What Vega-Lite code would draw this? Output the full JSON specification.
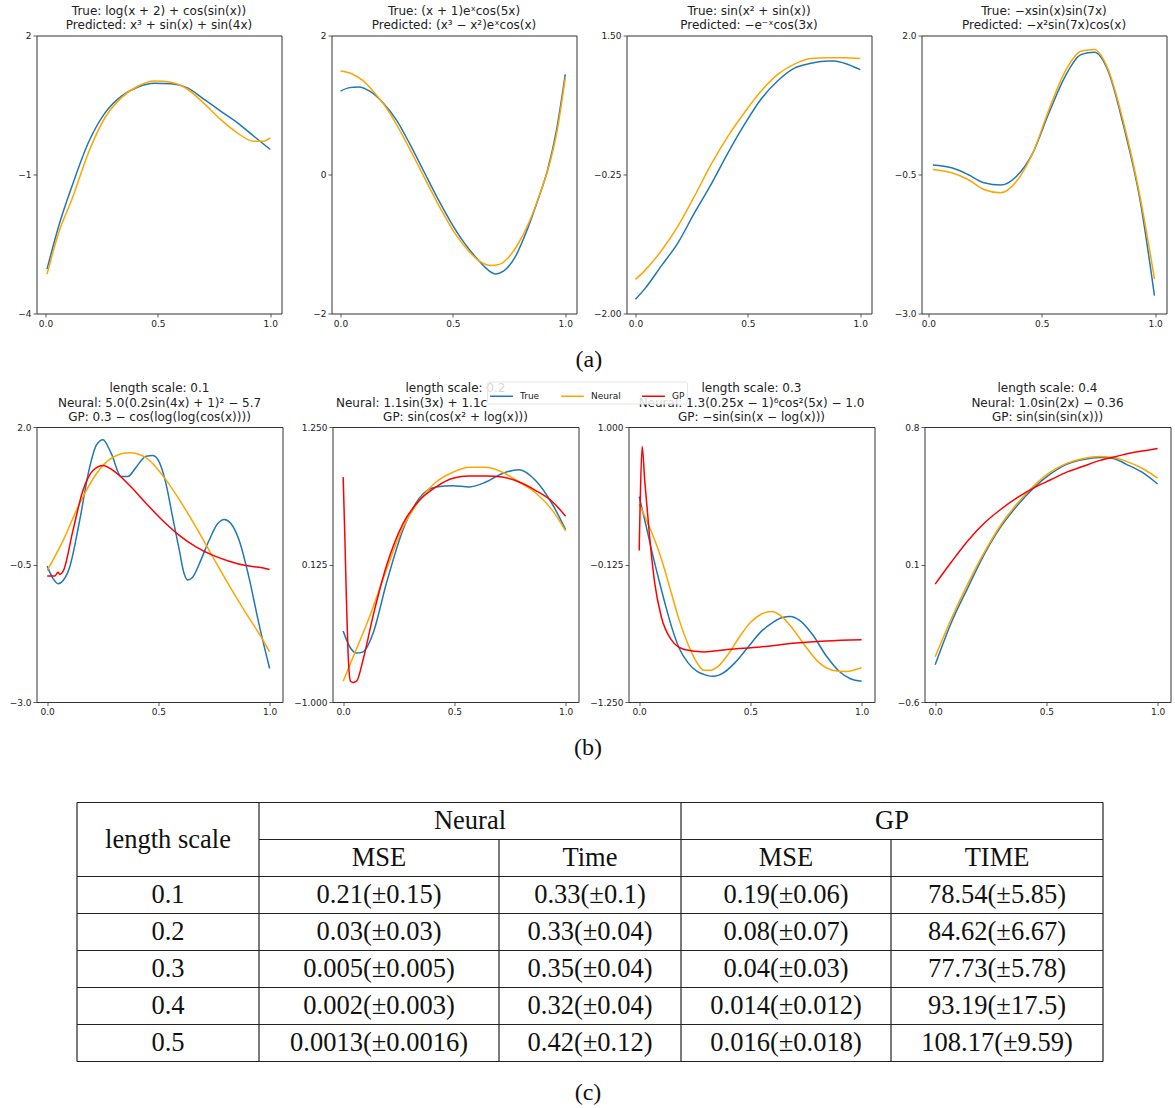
{
  "$schema": "https://vega.github.io/schema/vega-lite/v6.json",
  "background": "white",
  "padding": {"left": 8.5, "top": 4.5, "right": 0, "bottom": 0},
  "config": {
    "view": {"stroke": "#333333", "strokeWidth": 1},
    "font": "DejaVu Sans",
    "axis": {"domain": false, "grid": false, "tickColor": "#333333", "tickSize": 3.5, "tickWidth": 0.8, "labelFont": "DejaVu Sans", "labelFontSize": 9, "labelColor": "#222222", "labelPadding": 2, "labelFlush": false},
    "title": {"font": "DejaVu Sans", "fontSize": 12, "fontWeight": "normal", "color": "#222222", "offset": -1, "lineHeight": 14.4, "frame": "group", "anchor": "middle"},
    "line": {"strokeWidth": 1.5, "interpolate": "monotone"},
    "legend": {"orient": "none", "legendX": 450.5, "legendY": 346, "direction": "horizontal", "columns": 3, "title": null, "symbolType": "stroke", "symbolSize": 520, "symbolStrokeWidth": 1.5, "labelFont": "DejaVu Sans", "labelFontSize": 9, "labelColor": "#222222", "labelOffset": 6, "columnPadding": 18, "padding": 2, "fillColor": "rgba(255,255,255,0.82)", "strokeColor": "#e6e6e6", "cornerRadius": 2, "zindex": 1}
  },
  "datasets": {
    "a1": [
      {"s":"True","x":0.007,"y":-3.04},{"s":"True","x":0.059,"y":-2.11},{"s":"True","x":0.118,"y":-1.25},{"s":"True","x":0.191,"y":-0.31},{"s":"True","x":0.265,"y":0.33},{"s":"True","x":0.338,"y":0.69},{"s":"True","x":0.412,"y":0.89},{"s":"True","x":0.485,"y":0.97},{"s":"True","x":0.559,"y":0.96},{"s":"True","x":0.632,"y":0.87},{"s":"True","x":0.706,"y":0.62},{"s":"True","x":0.779,"y":0.37},{"s":"True","x":0.853,"y":0.12},{"s":"True","x":0.926,"y":-0.17},{"s":"True","x":1.0,"y":-0.46},
      {"s":"Neural","x":0.007,"y":-3.15},{"s":"Neural","x":0.059,"y":-2.25},{"s":"Neural","x":0.118,"y":-1.53},{"s":"Neural","x":0.191,"y":-0.53},{"s":"Neural","x":0.265,"y":0.23},{"s":"Neural","x":0.338,"y":0.66},{"s":"Neural","x":0.412,"y":0.91},{"s":"Neural","x":0.485,"y":1.02},{"s":"Neural","x":0.559,"y":0.99},{"s":"Neural","x":0.632,"y":0.84},{"s":"Neural","x":0.706,"y":0.53},{"s":"Neural","x":0.779,"y":0.19},{"s":"Neural","x":0.853,"y":-0.10},{"s":"Neural","x":0.926,"y":-0.28},{"s":"Neural","x":0.97,"y":-0.28},{"s":"Neural","x":1.0,"y":-0.21}
    ],
    "a2": [
      {"s":"True","x":0.0,"y":1.20},{"s":"True","x":0.04,"y":1.25},{"s":"True","x":0.08,"y":1.26},{"s":"True","x":0.13,"y":1.20},{"s":"True","x":0.19,"y":1.03},{"s":"True","x":0.25,"y":0.78},{"s":"True","x":0.31,"y":0.43},{"s":"True","x":0.37,"y":0.05},{"s":"True","x":0.43,"y":-0.33},{"s":"True","x":0.49,"y":-0.68},{"s":"True","x":0.55,"y":-0.98},{"s":"True","x":0.61,"y":-1.22},{"s":"True","x":0.655,"y":-1.37},{"s":"True","x":0.69,"y":-1.43},{"s":"True","x":0.725,"y":-1.39},{"s":"True","x":0.78,"y":-1.17},{"s":"True","x":0.83,"y":-0.80},{"s":"True","x":0.88,"y":-0.35},{"s":"True","x":0.92,"y":0.05},{"s":"True","x":0.96,"y":0.62},{"s":"True","x":1.0,"y":1.44},
      {"s":"Neural","x":0.0,"y":1.49},{"s":"Neural","x":0.05,"y":1.45},{"s":"Neural","x":0.10,"y":1.35},{"s":"Neural","x":0.15,"y":1.18},{"s":"Neural","x":0.21,"y":0.93},{"s":"Neural","x":0.27,"y":0.60},{"s":"Neural","x":0.33,"y":0.23},{"s":"Neural","x":0.39,"y":-0.15},{"s":"Neural","x":0.45,"y":-0.52},{"s":"Neural","x":0.51,"y":-0.85},{"s":"Neural","x":0.57,"y":-1.10},{"s":"Neural","x":0.62,"y":-1.25},{"s":"Neural","x":0.67,"y":-1.31},{"s":"Neural","x":0.70,"y":-1.30},{"s":"Neural","x":0.74,"y":-1.22},{"s":"Neural","x":0.79,"y":-1.00},{"s":"Neural","x":0.84,"y":-0.68},{"s":"Neural","x":0.89,"y":-0.25},{"s":"Neural","x":0.93,"y":0.15},{"s":"Neural","x":0.965,"y":0.65},{"s":"Neural","x":1.0,"y":1.39}
    ],
    "a3": [
      {"s":"True","x":0.0,"y":-1.82},{"s":"True","x":0.041,"y":-1.69},{"s":"True","x":0.115,"y":-1.40},{"s":"True","x":0.189,"y":-1.11},{"s":"True","x":0.263,"y":-0.73},{"s":"True","x":0.337,"y":-0.37},{"s":"True","x":0.411,"y":0.02},{"s":"True","x":0.485,"y":0.38},{"s":"True","x":0.559,"y":0.70},{"s":"True","x":0.633,"y":0.93},{"s":"True","x":0.707,"y":1.09},{"s":"True","x":0.781,"y":1.15},{"s":"True","x":0.855,"y":1.18},{"s":"True","x":0.885,"y":1.18},{"s":"True","x":0.93,"y":1.15},{"s":"True","x":1.0,"y":1.07},
      {"s":"Neural","x":0.0,"y":-1.57},{"s":"Neural","x":0.041,"y":-1.46},{"s":"Neural","x":0.115,"y":-1.21},{"s":"Neural","x":0.189,"y":-0.90},{"s":"Neural","x":0.263,"y":-0.52},{"s":"Neural","x":0.337,"y":-0.12},{"s":"Neural","x":0.411,"y":0.23},{"s":"Neural","x":0.485,"y":0.53},{"s":"Neural","x":0.559,"y":0.80},{"s":"Neural","x":0.633,"y":1.01},{"s":"Neural","x":0.707,"y":1.14},{"s":"Neural","x":0.781,"y":1.21},{"s":"Neural","x":0.855,"y":1.22},{"s":"Neural","x":0.93,"y":1.22},{"s":"Neural","x":1.0,"y":1.21}
    ],
    "a4": [
      {"s":"True","x":0.02,"y":-0.33},{"s":"True","x":0.103,"y":-0.38},{"s":"True","x":0.175,"y":-0.50},{"s":"True","x":0.246,"y":-0.65},{"s":"True","x":0.318,"y":-0.69},{"s":"True","x":0.389,"y":-0.53},{"s":"True","x":0.461,"y":-0.11},{"s":"True","x":0.532,"y":0.61},{"s":"True","x":0.604,"y":1.27},{"s":"True","x":0.675,"y":1.66},{"s":"True","x":0.732,"y":1.70},{"s":"True","x":0.790,"y":1.39},{"s":"True","x":0.861,"y":0.37},{"s":"True","x":0.933,"y":-0.95},{"s":"True","x":0.997,"y":-2.68},
      {"s":"Neural","x":0.02,"y":-0.41},{"s":"Neural","x":0.103,"y":-0.47},{"s":"Neural","x":0.175,"y":-0.59},{"s":"Neural","x":0.246,"y":-0.77},{"s":"Neural","x":0.318,"y":-0.83},{"s":"Neural","x":0.389,"y":-0.62},{"s":"Neural","x":0.461,"y":-0.11},{"s":"Neural","x":0.532,"y":0.67},{"s":"Neural","x":0.604,"y":1.36},{"s":"Neural","x":0.675,"y":1.72},{"s":"Neural","x":0.732,"y":1.75},{"s":"Neural","x":0.790,"y":1.42},{"s":"Neural","x":0.861,"y":0.43},{"s":"Neural","x":0.933,"y":-0.89},{"s":"Neural","x":0.997,"y":-2.38}
    ],
    "b1": [
      {"s":"True","x":0.0,"y":-0.53},{"s":"True","x":0.027,"y":-0.76},{"s":"True","x":0.049,"y":-0.85},{"s":"True","x":0.072,"y":-0.79},{"s":"True","x":0.101,"y":-0.55},{"s":"True","x":0.146,"y":0.30},{"s":"True","x":0.191,"y":1.27},{"s":"True","x":0.221,"y":1.67},{"s":"True","x":0.251,"y":1.77},{"s":"True","x":0.288,"y":1.52},{"s":"True","x":0.333,"y":1.10},{"s":"True","x":0.363,"y":1.10},{"s":"True","x":0.40,"y":1.27},{"s":"True","x":0.445,"y":1.47},{"s":"True","x":0.475,"y":1.48},{"s":"True","x":0.504,"y":1.36},{"s":"True","x":0.534,"y":0.97},{"s":"True","x":0.564,"y":0.36},{"s":"True","x":0.594,"y":-0.24},{"s":"True","x":0.616,"y":-0.67},{"s":"True","x":0.631,"y":-0.78},{"s":"True","x":0.654,"y":-0.73},{"s":"True","x":0.691,"y":-0.42},{"s":"True","x":0.728,"y":-0.06},{"s":"True","x":0.766,"y":0.24},{"s":"True","x":0.796,"y":0.32},{"s":"True","x":0.825,"y":0.25},{"s":"True","x":0.863,"y":-0.06},{"s":"True","x":0.907,"y":-0.73},{"s":"True","x":0.952,"y":-1.58},{"s":"True","x":1.0,"y":-2.39},
      {"s":"Neural","x":0.0,"y":-0.61},{"s":"Neural","x":0.072,"y":-0.06},{"s":"Neural","x":0.146,"y":0.61},{"s":"Neural","x":0.221,"y":1.15},{"s":"Neural","x":0.296,"y":1.45},{"s":"Neural","x":0.370,"y":1.53},{"s":"Neural","x":0.445,"y":1.44},{"s":"Neural","x":0.519,"y":1.12},{"s":"Neural","x":0.594,"y":0.68},{"s":"Neural","x":0.669,"y":0.18},{"s":"Neural","x":0.743,"y":-0.35},{"s":"Neural","x":0.818,"y":-0.88},{"s":"Neural","x":0.893,"y":-1.38},{"s":"Neural","x":0.967,"y":-1.85},{"s":"Neural","x":1.0,"y":-2.09},
      {"s":"GP","x":0.0,"y":-0.71},{"s":"GP","x":0.034,"y":-0.71},{"s":"GP","x":0.049,"y":-0.64},{"s":"GP","x":0.057,"y":-0.68},{"s":"GP","x":0.072,"y":-0.62},{"s":"GP","x":0.116,"y":0.12},{"s":"GP","x":0.161,"y":0.85},{"s":"GP","x":0.206,"y":1.21},{"s":"GP","x":0.251,"y":1.30},{"s":"GP","x":0.296,"y":1.21},{"s":"GP","x":0.370,"y":0.94},{"s":"GP","x":0.445,"y":0.61},{"s":"GP","x":0.519,"y":0.30},{"s":"GP","x":0.594,"y":0.03},{"s":"GP","x":0.669,"y":-0.18},{"s":"GP","x":0.743,"y":-0.33},{"s":"GP","x":0.818,"y":-0.44},{"s":"GP","x":0.893,"y":-0.52},{"s":"GP","x":0.967,"y":-0.56},{"s":"GP","x":1.0,"y":-0.59}
    ],
    "b2": [
      {"s":"True","x":0.0,"y":-0.42},{"s":"True","x":0.03,"y":-0.55},{"s":"True","x":0.06,"y":-0.60},{"s":"True","x":0.09,"y":-0.59},{"s":"True","x":0.134,"y":-0.44},{"s":"True","x":0.194,"y":-0.03},{"s":"True","x":0.269,"y":0.41},{"s":"True","x":0.343,"y":0.67},{"s":"True","x":0.418,"y":0.76},{"s":"True","x":0.493,"y":0.77},{"s":"True","x":0.567,"y":0.76},{"s":"True","x":0.642,"y":0.80},{"s":"True","x":0.716,"y":0.87},{"s":"True","x":0.791,"y":0.90},{"s":"True","x":0.866,"y":0.81},{"s":"True","x":0.940,"y":0.62},{"s":"True","x":1.0,"y":0.41},
      {"s":"Neural","x":0.0,"y":-0.83},{"s":"Neural","x":0.045,"y":-0.63},{"s":"Neural","x":0.119,"y":-0.30},{"s":"Neural","x":0.194,"y":0.08},{"s":"Neural","x":0.269,"y":0.43},{"s":"Neural","x":0.343,"y":0.65},{"s":"Neural","x":0.418,"y":0.80},{"s":"Neural","x":0.493,"y":0.88},{"s":"Neural","x":0.567,"y":0.92},{"s":"Neural","x":0.642,"y":0.92},{"s":"Neural","x":0.716,"y":0.88},{"s":"Neural","x":0.791,"y":0.80},{"s":"Neural","x":0.866,"y":0.71},{"s":"Neural","x":0.940,"y":0.57},{"s":"Neural","x":1.0,"y":0.40},
      {"s":"GP","x":0.0,"y":0.84},{"s":"GP","x":0.0075,"y":0.35},{"s":"GP","x":0.015,"y":-0.19},{"s":"GP","x":0.022,"y":-0.60},{"s":"GP","x":0.033,"y":-0.83},{"s":"GP","x":0.045,"y":-0.84},{"s":"GP","x":0.06,"y":-0.83},{"s":"GP","x":0.09,"y":-0.65},{"s":"GP","x":0.134,"y":-0.30},{"s":"GP","x":0.194,"y":0.11},{"s":"GP","x":0.269,"y":0.46},{"s":"GP","x":0.343,"y":0.65},{"s":"GP","x":0.418,"y":0.76},{"s":"GP","x":0.493,"y":0.83},{"s":"GP","x":0.567,"y":0.85},{"s":"GP","x":0.642,"y":0.85},{"s":"GP","x":0.716,"y":0.84},{"s":"GP","x":0.791,"y":0.80},{"s":"GP","x":0.866,"y":0.73},{"s":"GP","x":0.940,"y":0.64},{"s":"GP","x":1.0,"y":0.52}
    ],
    "b3": [
      {"s":"True","x":0.0,"y":0.43},{"s":"True","x":0.03,"y":0.20},{"s":"True","x":0.06,"y":-0.04},{"s":"True","x":0.09,"y":-0.26},{"s":"True","x":0.12,"y":-0.47},{"s":"True","x":0.15,"y":-0.66},{"s":"True","x":0.18,"y":-0.81},{"s":"True","x":0.22,"y":-0.93},{"s":"True","x":0.26,"y":-1.00},{"s":"True","x":0.30,"y":-1.03},{"s":"True","x":0.336,"y":-1.04},{"s":"True","x":0.38,"y":-1.01},{"s":"True","x":0.43,"y":-0.93},{"s":"True","x":0.49,"y":-0.80},{"s":"True","x":0.55,"y":-0.67},{"s":"True","x":0.60,"y":-0.60},{"s":"True","x":0.64,"y":-0.56},{"s":"True","x":0.68,"y":-0.55},{"s":"True","x":0.72,"y":-0.58},{"s":"True","x":0.78,"y":-0.70},{"s":"True","x":0.84,"y":-0.87},{"s":"True","x":0.90,"y":-1.00},{"s":"True","x":0.95,"y":-1.06},{"s":"True","x":1.0,"y":-1.08},
      {"s":"Neural","x":0.0,"y":0.37},{"s":"Neural","x":0.025,"y":0.27},{"s":"Neural","x":0.06,"y":0.12},{"s":"Neural","x":0.10,"y":-0.08},{"s":"Neural","x":0.14,"y":-0.33},{"s":"Neural","x":0.18,"y":-0.58},{"s":"Neural","x":0.22,"y":-0.78},{"s":"Neural","x":0.26,"y":-0.93},{"s":"Neural","x":0.29,"y":-0.99},{"s":"Neural","x":0.32,"y":-0.99},{"s":"Neural","x":0.36,"y":-0.95},{"s":"Neural","x":0.40,"y":-0.86},{"s":"Neural","x":0.45,"y":-0.72},{"s":"Neural","x":0.50,"y":-0.60},{"s":"Neural","x":0.55,"y":-0.53},{"s":"Neural","x":0.596,"y":-0.51},{"s":"Neural","x":0.64,"y":-0.55},{"s":"Neural","x":0.69,"y":-0.65},{"s":"Neural","x":0.75,"y":-0.80},{"s":"Neural","x":0.81,"y":-0.93},{"s":"Neural","x":0.87,"y":-0.99},{"s":"Neural","x":0.93,"y":-1.00},{"s":"Neural","x":1.0,"y":-0.97},
      {"s":"GP","x":0.0,"y":-0.01},{"s":"GP","x":0.0044,"y":0.37},{"s":"GP","x":0.0133,"y":0.84},{"s":"GP","x":0.025,"y":0.56},{"s":"GP","x":0.047,"y":0.10},{"s":"GP","x":0.07,"y":-0.28},{"s":"GP","x":0.099,"y":-0.55},{"s":"GP","x":0.144,"y":-0.74},{"s":"GP","x":0.203,"y":-0.82},{"s":"GP","x":0.292,"y":-0.84},{"s":"GP","x":0.396,"y":-0.82},{"s":"GP","x":0.544,"y":-0.80},{"s":"GP","x":0.692,"y":-0.77},{"s":"GP","x":0.840,"y":-0.75},{"s":"GP","x":1.0,"y":-0.74}
    ],
    "b4": [
      {"s":"True","x":0.0,"y":-0.41},{"s":"True","x":0.071,"y":-0.20},{"s":"True","x":0.146,"y":-0.02},{"s":"True","x":0.22,"y":0.15},{"s":"True","x":0.294,"y":0.29},{"s":"True","x":0.369,"y":0.40},{"s":"True","x":0.443,"y":0.49},{"s":"True","x":0.517,"y":0.56},{"s":"True","x":0.591,"y":0.61},{"s":"True","x":0.666,"y":0.635},{"s":"True","x":0.74,"y":0.645},{"s":"True","x":0.80,"y":0.64},{"s":"True","x":0.86,"y":0.61},{"s":"True","x":0.93,"y":0.57},{"s":"True","x":1.0,"y":0.51},
      {"s":"Neural","x":0.0,"y":-0.37},{"s":"Neural","x":0.071,"y":-0.18},{"s":"Neural","x":0.146,"y":0.0},{"s":"Neural","x":0.22,"y":0.16},{"s":"Neural","x":0.294,"y":0.30},{"s":"Neural","x":0.369,"y":0.41},{"s":"Neural","x":0.443,"y":0.50},{"s":"Neural","x":0.517,"y":0.57},{"s":"Neural","x":0.591,"y":0.615},{"s":"Neural","x":0.666,"y":0.64},{"s":"Neural","x":0.74,"y":0.65},{"s":"Neural","x":0.80,"y":0.645},{"s":"Neural","x":0.86,"y":0.625},{"s":"Neural","x":0.93,"y":0.59},{"s":"Neural","x":1.0,"y":0.54},
      {"s":"GP","x":0.0,"y":0.0},{"s":"GP","x":0.071,"y":0.11},{"s":"GP","x":0.146,"y":0.22},{"s":"GP","x":0.22,"y":0.31},{"s":"GP","x":0.294,"y":0.38},{"s":"GP","x":0.369,"y":0.44},{"s":"GP","x":0.443,"y":0.49},{"s":"GP","x":0.517,"y":0.53},{"s":"GP","x":0.591,"y":0.57},{"s":"GP","x":0.666,"y":0.60},{"s":"GP","x":0.74,"y":0.63},{"s":"GP","x":0.814,"y":0.65},{"s":"GP","x":0.889,"y":0.67},{"s":"GP","x":0.948,"y":0.68},{"s":"GP","x":1.0,"y":0.69}
    ],
    "rules": [
      {"x":0,"x2":1026,"y":0,"y2":0},{"x":182,"x2":1026,"y":1,"y2":1},{"x":0,"x2":1026,"y":2,"y2":2},{"x":0,"x2":1026,"y":3,"y2":3},{"x":0,"x2":1026,"y":4,"y2":4},{"x":0,"x2":1026,"y":5,"y2":5},{"x":0,"x2":1026,"y":6,"y2":6},{"x":0,"x2":1026,"y":7,"y2":7},
      {"x":0,"x2":0,"y":0,"y2":7},{"x":182,"x2":182,"y":0,"y2":7},{"x":604,"x2":604,"y":0,"y2":7},{"x":1026,"x2":1026,"y":0,"y2":7},{"x":422,"x2":422,"y":1,"y2":7},{"x":814,"x2":814,"y":1,"y2":7}
    ],
    "cells": [
      {"label":"length scale","cx":91,"cy":1.0},{"label":"Neural","cx":393,"cy":0.5},{"label":"GP","cx":815,"cy":0.5},
      {"label":"MSE","cx":302,"cy":1.5},{"label":"Time","cx":513,"cy":1.5},{"label":"MSE","cx":709,"cy":1.5},{"label":"TIME","cx":920,"cy":1.5},
      {"label":"0.1","cx":91,"cy":2.5},{"label":"0.21(±0.15)","cx":302,"cy":2.5},{"label":"0.33(±0.1)","cx":513,"cy":2.5},{"label":"0.19(±0.06)","cx":709,"cy":2.5},{"label":"78.54(±5.85)","cx":920,"cy":2.5},
      {"label":"0.2","cx":91,"cy":3.5},{"label":"0.03(±0.03)","cx":302,"cy":3.5},{"label":"0.33(±0.04)","cx":513,"cy":3.5},{"label":"0.08(±0.07)","cx":709,"cy":3.5},{"label":"84.62(±6.67)","cx":920,"cy":3.5},
      {"label":"0.3","cx":91,"cy":4.5},{"label":"0.005(±0.005)","cx":302,"cy":4.5},{"label":"0.35(±0.04)","cx":513,"cy":4.5},{"label":"0.04(±0.03)","cx":709,"cy":4.5},{"label":"77.73(±5.78)","cx":920,"cy":4.5},
      {"label":"0.4","cx":91,"cy":5.5},{"label":"0.002(±0.003)","cx":302,"cy":5.5},{"label":"0.32(±0.04)","cx":513,"cy":5.5},{"label":"0.014(±0.012)","cx":709,"cy":5.5},{"label":"93.19(±17.5)","cx":920,"cy":5.5},
      {"label":"0.5","cx":91,"cy":6.5},{"label":"0.0013(±0.0016)","cx":302,"cy":6.5},{"label":"0.42(±0.12)","cx":513,"cy":6.5},{"label":"0.016(±0.018)","cx":709,"cy":6.5},{"label":"108.17(±9.59)","cx":920,"cy":6.5}
    ],
    "captions": [
      {"label":"(b)","cx":511,"cy":-1.46},{"label":"(c)","cx":511,"cy":7.84}
    ]
  },
  "spacing": 18.5,
  "vconcat": [
    {
      "hconcat": [
        {"width": 245, "height": 278, "title": {"text": ["True: log(x + 2) + cos(sin(x))", "Predicted: x³ + sin(x) + sin(4x)"]}, "data": {"name": "a1"}, "mark": {"type": "line"},
         "encoding": {"x": {"field": "x", "type": "quantitative", "scale": {"domain": [-0.04, 1.05], "nice": false, "zero": false}, "axis": {"values": [0, 0.5, 1], "format": ".1f", "title": null}},
                      "y": {"field": "y", "type": "quantitative", "scale": {"domain": [-4, 2], "nice": false, "zero": false}, "axis": {"values": [-4, -1, 2], "format": ".0f", "title": null}},
                      "color": {"field": "s", "type": "nominal", "scale": {"domain": ["True", "Neural", "GP"], "range": ["#1f77b4", "#ffa500", "#ff0000"]}}}},
        {"width": 245, "height": 278, "title": {"text": ["True: (x + 1)eˣcos(5x)", "Predicted: (x³ − x²)eˣcos(x)"]}, "data": {"name": "a2"}, "mark": {"type": "line"},
         "encoding": {"x": {"field": "x", "type": "quantitative", "scale": {"domain": [-0.04, 1.05], "nice": false, "zero": false}, "axis": {"values": [0, 0.5, 1], "format": ".1f", "title": null}},
                      "y": {"field": "y", "type": "quantitative", "scale": {"domain": [-2, 2], "nice": false, "zero": false}, "axis": {"values": [-2, 0, 2], "format": ".0f", "title": null}},
                      "color": {"field": "s", "type": "nominal", "scale": {"domain": ["True", "Neural", "GP"], "range": ["#1f77b4", "#ffa500", "#ff0000"]}}}},
        {"width": 245, "height": 278, "title": {"text": ["True: sin(x² + sin(x))", "Predicted: −e⁻ˣcos(3x)"]}, "data": {"name": "a3"}, "mark": {"type": "line"},
         "encoding": {"x": {"field": "x", "type": "quantitative", "scale": {"domain": [-0.04, 1.05], "nice": false, "zero": false}, "axis": {"values": [0, 0.5, 1], "format": ".1f", "title": null}},
                      "y": {"field": "y", "type": "quantitative", "scale": {"domain": [-2, 1.5], "nice": false, "zero": false}, "axis": {"values": [-2, -0.25, 1.5], "format": ".2f", "title": null}},
                      "color": {"field": "s", "type": "nominal", "scale": {"domain": ["True", "Neural", "GP"], "range": ["#1f77b4", "#ffa500", "#ff0000"]}}}},
        {"width": 245, "height": 278, "title": {"text": ["True: −xsin(x)sin(7x)", "Predicted: −x²sin(7x)cos(x)"]}, "data": {"name": "a4"}, "mark": {"type": "line"},
         "encoding": {"x": {"field": "x", "type": "quantitative", "scale": {"domain": [-0.03, 1.05], "nice": false, "zero": false}, "axis": {"values": [0, 0.5, 1], "format": ".1f", "title": null}},
                      "y": {"field": "y", "type": "quantitative", "scale": {"domain": [-3, 2], "nice": false, "zero": false}, "axis": {"values": [-3, -0.5, 2], "format": ".1f", "title": null}},
                      "color": {"field": "s", "type": "nominal", "scale": {"domain": ["True", "Neural", "GP"], "range": ["#1f77b4", "#ffa500", "#ff0000"]}}}}
      ],
      "spacing": 50,
      "bounds": "flush"
    },
    {
      "title": {"text": "(a)", "font": "Liberation Serif", "fontSize": 24, "color": "#111111", "offset": 10, "anchor": "middle", "frame": "bounds", "dx": -1},
      "hconcat": [
        {"width": 246, "height": 275, "title": {"text": ["length scale: 0.1", "Neural: 5.0(0.2sin(4x) + 1)² − 5.7", "GP: 0.3 − cos(log(log(cos(x))))"]}, "data": {"name": "b1"}, "mark": {"type": "line"},
         "encoding": {"x": {"field": "x", "type": "quantitative", "scale": {"domain": [-0.048, 1.058], "nice": false, "zero": false}, "axis": {"values": [0, 0.5, 1], "format": ".1f", "title": null}},
                      "y": {"field": "y", "type": "quantitative", "scale": {"domain": [-3, 2], "nice": false, "zero": false}, "axis": {"values": [-3, -0.5, 2], "format": ".1f", "title": null}},
                      "color": {"field": "s", "type": "nominal", "scale": {"domain": ["True", "Neural", "GP"], "range": ["#1f77b4", "#ffa500", "#ff0000"]}}}},
        {"width": 246, "height": 275, "title": {"text": ["length scale: 0.2", "Neural: 1.1sin(3x) + 1.1c\u2800\u2800\u2800\u2800\u2800\u2800\u2800\u2800\u2800\u2800", "GP: sin(cos(x² + log(x)))"]}, "data": {"name": "b2"}, "mark": {"type": "line"},
         "encoding": {"x": {"field": "x", "type": "quantitative", "scale": {"domain": [-0.048, 1.058], "nice": false, "zero": false}, "axis": {"values": [0, 0.5, 1], "format": ".1f", "title": null}},
                      "y": {"field": "y", "type": "quantitative", "scale": {"domain": [-1, 1.25], "nice": false, "zero": false}, "axis": {"values": [-1, 0.125, 1.25], "format": ".3f", "title": null}},
                      "color": {"field": "s", "type": "nominal", "scale": {"domain": ["True", "Neural", "GP"], "range": ["#1f77b4", "#ffa500", "#ff0000"]}}}},
        {"width": 246, "height": 275, "title": {"text": ["length scale: 0.3", "Neural: 1.3(0.25x − 1)⁶cos²(5x) − 1.0", "GP: −sin(sin(x − log(x)))"]}, "data": {"name": "b3"}, "mark": {"type": "line"},
         "encoding": {"x": {"field": "x", "type": "quantitative", "scale": {"domain": [-0.048, 1.058], "nice": false, "zero": false}, "axis": {"values": [0, 0.5, 1], "format": ".1f", "title": null}},
                      "y": {"field": "y", "type": "quantitative", "scale": {"domain": [-1.25, 1], "nice": false, "zero": false}, "axis": {"values": [-1.25, -0.125, 1], "format": ".3f", "title": null}},
                      "color": {"field": "s", "type": "nominal", "scale": {"domain": ["True", "Neural", "GP"], "range": ["#1f77b4", "#ffa500", "#ff0000"]}}}},
        {"width": 246, "height": 275, "title": {"text": ["length scale: 0.4", "Neural: 1.0sin(2x) − 0.36", "GP: sin(sin(sin(x)))"]}, "data": {"name": "b4"}, "mark": {"type": "line"},
         "encoding": {"x": {"field": "x", "type": "quantitative", "scale": {"domain": [-0.048, 1.058], "nice": false, "zero": false}, "axis": {"values": [0, 0.5, 1], "format": ".1f", "title": null}},
                      "y": {"field": "y", "type": "quantitative", "scale": {"domain": [-0.6, 0.8], "nice": false, "zero": false}, "axis": {"values": [-0.6, 0.1, 0.8], "format": ".1f", "title": null}},
                      "color": {"field": "s", "type": "nominal", "scale": {"domain": ["True", "Neural", "GP"], "range": ["#1f77b4", "#ffa500", "#ff0000"]}}}}
      ],
      "spacing": 50,
      "bounds": "flush"
    },
    {
      "width": 1130,
      "height": 259,
      "view": {"stroke": null},
      "layer": [
        {"data": {"name": "rules"}, "mark": {"type": "rule", "stroke": "#222222", "strokeWidth": 1.2},
         "encoding": {"x": {"field": "x", "type": "quantitative", "scale": {"domain": [-40.5, 1089.5], "nice": false, "zero": false}, "axis": null},
                      "x2": {"field": "x2"},
                      "y": {"field": "y", "type": "quantitative", "scale": {"domain": [0, 7], "reverse": true, "nice": false, "zero": false}, "axis": null},
                      "y2": {"field": "y2"}}},
        {"data": {"name": "cells"}, "mark": {"type": "text", "font": "Liberation Serif", "fontSize": 26.5, "baseline": "middle", "align": "center", "color": "#111111"},
         "encoding": {"x": {"field": "cx", "type": "quantitative"}, "y": {"field": "cy", "type": "quantitative"}, "text": {"field": "label"}}},
        {"data": {"name": "captions"}, "mark": {"type": "text", "font": "Liberation Serif", "fontSize": 24, "baseline": "middle", "align": "center", "color": "#111111"},
         "encoding": {"x": {"field": "cx", "type": "quantitative"}, "y": {"field": "cy", "type": "quantitative"}, "text": {"field": "label"}}}
      ]
    }
  ]
}
